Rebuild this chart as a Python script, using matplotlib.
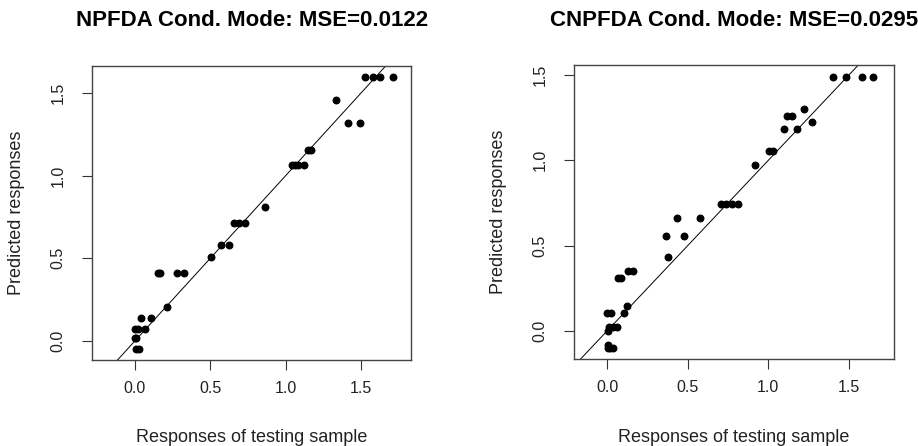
import matplotlib
matplotlib.use("Agg")
import matplotlib.pyplot as plt

plt.rcParams['font.family'] = ['Liberation Sans', 'DejaVu Sans']

# left panel: NPFDA conditional mode
np_obs = [0.005, 0.025, 0.0, 0.01, 0.0, 0.02, 0.065, 0.038, 0.108, 0.21,
          0.15, 0.165, 0.281, 0.325, 0.504, 0.571, 0.626, 0.657, 0.692, 0.728,
          0.863, 1.04, 1.06, 1.08, 1.12, 1.15, 1.17, 1.334, 1.416, 1.493,
          1.526, 1.577, 1.626, 1.71]
np_pred = [-0.05, -0.05, 0.02, 0.02, 0.07, 0.07, 0.07, 0.141, 0.141, 0.207,
           0.413, 0.413, 0.413, 0.413, 0.51, 0.579, 0.579, 0.715, 0.715, 0.715,
           0.812, 1.066, 1.066, 1.066, 1.066, 1.155, 1.155, 1.457, 1.32, 1.32,
           1.594, 1.594, 1.594, 1.594]

# right panel: CNPFDA conditional mode
cnp_obs = [0.005, 0.005, 0.035, 0.02, 0.004, 0.01, 0.035, 0.06, 0.0, 0.025,
           0.107, 0.122, 0.065, 0.085, 0.132, 0.163, 0.38, 0.366, 0.48, 0.436,
           0.577, 0.707, 0.736, 0.777, 0.815, 0.918, 1.005, 1.03, 1.1, 1.115,
           1.146, 1.18, 1.222, 1.27, 1.40, 1.481, 1.582, 1.652]
cnp_pred = [-0.08, -0.10, -0.10, -0.10, 0.002, 0.025, 0.025, 0.025, 0.104, 0.104,
            0.104, 0.146, 0.31, 0.31, 0.351, 0.351, 0.435, 0.557, 0.557, 0.662,
            0.662, 0.742, 0.742, 0.742, 0.742, 0.974, 1.054, 1.054, 1.182, 1.26,
            1.26, 1.182, 1.30, 1.223, 1.486, 1.486, 1.486, 1.486]

ticks = [0.0, 0.5, 1.0, 1.5]
tick_labels = ['0.0', '0.5', '1.0', '1.5']

fig = plt.figure(figsize=(9.18, 4.46), dpi=100)

panels = [
    ([0.1005, 0.193, 0.3472, 0.659], np_obs, np_pred, (-0.283, 1.831), (-0.115, 1.663),
     'NPFDA Cond. Mode: MSE=0.0122'),
    ([0.6253, 0.194, 0.3486, 0.660], cnp_obs, cnp_pred, (-0.205, 1.78), (-0.167, 1.558),
     'CNPFDA Cond. Mode: MSE=0.0295'),
]

for rect, xs, ys, xl, yl, title in panels:
    ax = fig.add_axes(rect)
    ax.scatter(xs, ys, s=22, color='black', zorder=3)
    ax.axline((0, 0), slope=1, color='black', lw=0.7)
    ax.set_xlim(xl)
    ax.set_ylim(yl)
    ax.set_xticks(ticks)
    ax.set_xticklabels(tick_labels)
    ax.set_yticks(ticks)
    ax.set_yticklabels(tick_labels, rotation=90, va='center')
    ax.tick_params(axis='both', length=7, width=0.8, color='#333333',
                   labelsize=11.5, labelcolor='#222222')
    ax.tick_params(axis='x', pad=8)
    ax.tick_params(axis='y', pad=12)
    for sp in ax.spines.values():
        sp.set_color('#444444')
        sp.set_linewidth(1.0)
    cx = rect[0] + rect[2] / 2
    fig.text(cx, 0.953, title, ha='center', va='center', fontsize=16, fontweight='bold')
    fig.text(cx, 0.02, 'Responses of testing sample', ha='center', va='center',
             fontsize=13, color='#222222')
    fig.text(rect[0] - 0.082, rect[1] + rect[3] / 2, 'Predicted responses', rotation=90,
             ha='center', va='center', fontsize=13, color='#222222')

fig.savefig('out.png', dpi=100)
